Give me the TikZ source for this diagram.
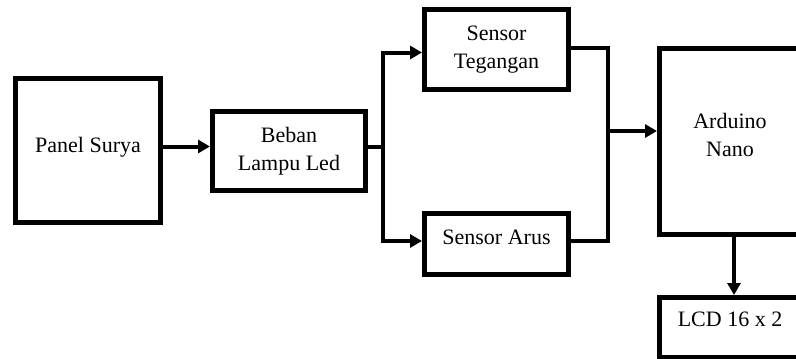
\documentclass[tikz,border=0pt]{standalone}
\usepackage{fontspec}
\setmainfont{Liberation Serif}[BoldFont={Liberation Serif Bold}]
\usetikzlibrary{arrows.meta,calc}
\begin{document}
\begin{tikzpicture}[x=1pt,y=-1pt,
  box/.style={draw,line width=5pt,rectangle,inner sep=0pt},
  txt/.style={inner sep=0pt,align=center,font=\fontsize{22}{28}\selectfont},
  conn/.style={line width=4pt},
  arr/.style={conn,-{Triangle[length=12pt,width=13pt]}}]
\useasboundingbox (0,0) rectangle (796,359);
% boxes
\node[box,minimum width=145pt,minimum height=144pt] (panel) at (88,150.5) {};
\node[txt] (paneltxt) at (88,146.9) {Panel Surya};
\node[box,txt,minimum width=153pt,minimum height=79pt] (beban) at (289,151) {Beban\\Lampu Led};
\node[box,txt,minimum width=144pt,minimum height=80pt] (teg) at (496.5,49.5) {Sensor\\Tegangan};
\node[box,minimum width=144pt,minimum height=61pt] (arus) at (496.5,244) {};
\node[txt] (arustxt) at (496.5,237.5) {Sensor Arus};
\node[box,minimum width=141pt,minimum height=186pt] (ard) at (730,141.5) {};
\node[txt] (ardtxt) at (730,135) {Arduino\\Nano};
\node[box,minimum width=141pt,minimum height=59.5pt] (lcd) at (730,327.25) {};
\node[txt] (lcdtxt) at (730,319.5) {LCD 16 x 2};
% coordinates
\coordinate (j1) at (383.3,146.5);
\coordinate (jt) at (383.3,52.5);
\coordinate (jb) at (383.3,241);
\coordinate (ko) at (607.5,47.5);
\coordinate (ku) at (607.5,240.5);
\coordinate (k) at (607.5,131);
\coordinate (d) at (734,0);
% connectors
\draw[arr] (panel.east |- j1) -- (beban.west |- j1);
\draw[conn] (beban.east |- j1) -- (j1);
\draw[arr] (j1) |- (teg.west |- jt);
\draw[arr] (j1) |- (arus.west |- jb);
\draw[conn] (teg.east |- ko) -- (ko) -- (ku) -- (arus.east |- ku);
\draw[arr] (k) -- (ard.west |- k);
\draw[arr] (ard.south -| d) -- (lcd.north -| d);
\end{tikzpicture}
\end{document}
